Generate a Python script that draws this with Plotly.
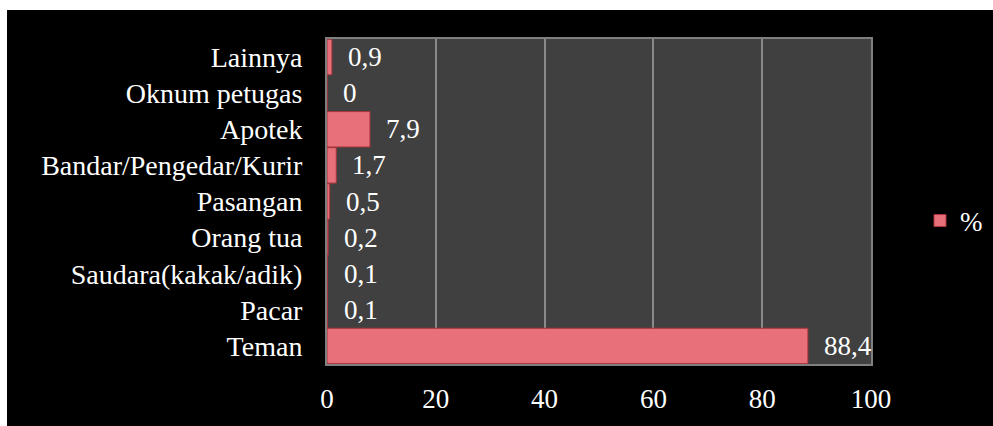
import plotly.graph_objects as go

categories = ["Teman", "Pacar", "Saudara(kakak/adik)", "Orang tua", "Pasangan",
              "Bandar/Pengedar/Kurir", "Apotek", "Oknum petugas", "Lainnya"]
values = [88.4, 0.1, 0.1, 0.2, 0.5, 1.7, 7.9, 0, 0.9]
series_name = "%"
x_ticks = [0, 20, 40, 60, 80, 100]

FONT = "Liberation Serif"
FS = 27
W, H = 993, 426
L, R, T, B = 327, 122, 39, 62
pw, ph = W - L - R, H - T - B

fig = go.Figure()
fig.add_trace(go.Bar(
    y=categories, x=values, orientation="h", name=series_name,
    marker=dict(color="#E8707A", line=dict(color="#A8353B", width=1)),
    showlegend=True,
))

for c, v in zip(categories, values):
    fig.add_annotation(x=v, y=c, text=str(v).replace(".", ","), showarrow=False,
                       xanchor="left", xshift=14, yshift=0,
                       font=dict(family=FONT, size=FS, color="white"))

# white strips at top and left of the image
fig.add_shape(type="rect", xref="paper", yref="paper",
              x0=-L / pw - 0.05, x1=(W + 20 - L) / pw,
              y0=1 + (T - 10) / ph, y1=1 + (T + 20) / ph,
              fillcolor="white", line=dict(width=0), layer="above")
fig.add_shape(type="rect", xref="paper", yref="paper",
              x0=-L / pw - 0.05, x1=(7 - L) / pw,
              y0=-(B + 20) / ph, y1=1 + (T + 20) / ph,
              fillcolor="white", line=dict(width=0), layer="above")

fig.update_layout(
    width=W, height=H,
    margin=dict(l=L, r=R, t=T, b=B, pad=0, autoexpand=False),
    paper_bgcolor="black", plot_bgcolor="#404040",
    bargap=0.02,
    font=dict(family=FONT, size=FS, color="white"),
    legend=dict(x=(920 - L) / pw, y=1 - (221 - T) / ph, xanchor="left", yanchor="middle",
                font=dict(family=FONT, size=FS, color="white"),
                bgcolor="rgba(0,0,0,0)", itemwidth=30),
    showlegend=True,
)
fig.update_xaxes(range=[0, 100], tickvals=x_ticks, ticktext=[str(t) for t in x_ticks],
                 showgrid=True, gridcolor="#8A8A8A", gridwidth=2,
                 showline=True, mirror=True, linecolor="#7F7F7F", linewidth=2,
                 zeroline=False, ticks="", ticklabelstandoff=10, automargin=False,
                 tickfont=dict(family=FONT, size=FS, color="white"), fixedrange=True)
fig.update_yaxes(categoryorder="array", categoryarray=categories,
                 showgrid=False, showline=True, mirror=True, linecolor="#7F7F7F", linewidth=2,
                 ticks="", ticklabelstandoff=17, automargin=False,
                 tickfont=dict(family=FONT, size=28, color="white"), fixedrange=True)

fig.write_html("out.html")
